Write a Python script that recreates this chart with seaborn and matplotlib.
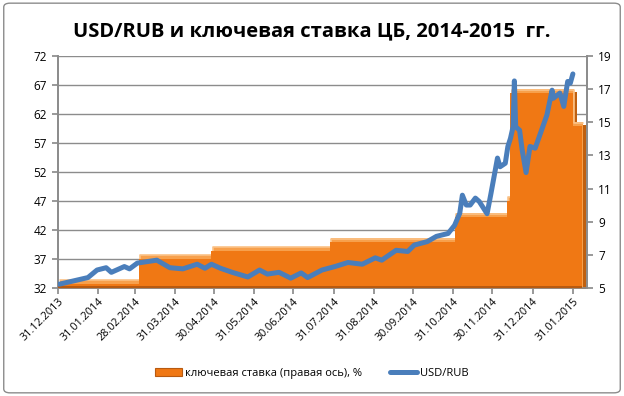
import pandas as pd

import matplotlib
matplotlib.use('AGG')
import matplotlib.pyplot as plt
import matplotlib.transforms as mtransforms
from matplotlib.patches import FancyBboxPatch, Patch
from matplotlib.lines import Line2D
import seaborn as sns

sns.set_theme(style="white", rc={
        "text.color": "black",
        "xtick.color": "black",
        "ytick.color": "black"})
plt.rcParams['font.family'] = ['Open Sans', 'DejaVu Sans']

# USD/RUB (left axis)
usd_dates = ['2014-01-01', '2014-01-23', '2014-01-30', '2014-02-06', '2014-02-10',
             '2014-02-20', '2014-02-24', '2014-03-02', '2014-03-17', '2014-03-27',
             '2014-04-06', '2014-04-17', '2014-04-23', '2014-04-28', '2014-05-05',
             '2014-05-14', '2014-05-26', '2014-06-04', '2014-06-10', '2014-06-19',
             '2014-06-28', '2014-07-06', '2014-07-11', '2014-07-22', '2014-08-01',
             '2014-08-11', '2014-08-22', '2014-09-01', '2014-09-06', '2014-09-17',
             '2014-09-26', '2014-10-01', '2014-10-11', '2014-10-18', '2014-10-27',
             '2014-11-01', '2014-11-05', '2014-11-07', '2014-11-10', '2014-11-13',
             '2014-11-17', '2014-11-20', '2014-11-26', '2014-11-29', '2014-12-04',
             '2014-12-06', '2014-12-10', '2014-12-12', '2014-12-14', '2014-12-16',
             '2014-12-17', '2014-12-18', '2014-12-21', '2014-12-23', '2014-12-26',
             '2014-12-29', '2015-01-02', '2015-01-11', '2015-01-15', '2015-01-16',
             '2015-01-21', '2015-01-24', '2015-01-27', '2015-01-29', '2015-01-31']
usd_values = [32.66, 33.8, 35.1, 35.5, 34.7,
              35.7, 35.3, 36.3, 36.8, 35.5,
              35.3, 36.1, 35.4, 36.1, 35.4,
              34.7, 33.9, 35.1, 34.4, 34.7,
              33.7, 34.6, 33.8, 35.1, 35.7,
              36.4, 36.1, 37.2, 36.8, 38.5,
              38.3, 39.4, 40.0, 40.9, 41.4,
              42.8, 44.9, 48.0, 46.3, 46.3,
              47.5, 46.9, 44.8, 48.3, 54.4,
              52.9, 53.5, 56.4, 57.8, 59.8,
              67.7, 59.8, 59.2, 55.8, 51.9,
              56.4, 56.1, 61.8, 66.1, 64.7,
              65.6, 63.3, 67.6, 67.3, 68.9]

# key rate, % (right axis)
rate_dates = ['2013-12-31', '2014-03-03', '2014-04-28', '2014-07-28', '2014-11-01',
              '2014-12-11', '2014-12-14', '2015-01-31', '2015-02-07']
rate_values = [5.5, 7.0, 7.5, 8.0, 9.5, 10.5, 17.0, 15.0, 15.0]

tick_dates = ['2013-12-31', '2014-01-31', '2014-02-28', '2014-03-31', '2014-04-30',
              '2014-05-31', '2014-06-30', '2014-07-31', '2014-08-31', '2014-09-30',
              '2014-10-31', '2014-11-30', '2014-12-31', '2015-01-31']
left_ticks = [32, 37, 42, 47, 52, 57, 62, 67, 72]
right_ticks = [5, 7, 9, 11, 13, 15, 17, 19]

usd = pd.DataFrame({'date': pd.to_datetime(usd_dates), 'usd': usd_values})
rate = pd.DataFrame({'date': pd.to_datetime(rate_dates), 'rate': rate_values})
ticks = pd.to_datetime(tick_dates)

grid_c = '#8c8c8c'

fig = plt.figure(figsize=(6.24, 3.96), dpi=100)
ax = fig.add_axes([0.093, 0.2727, 0.848, 0.586])   # left scale + grid (back)
ax2 = ax.twinx()                                   # key rate area
ax3 = ax.twinx()                                   # USD/RUB line on top
ax.set_zorder(0)
ax2.set_zorder(1)
ax3.set_zorder(2)
ax2.patch.set_visible(False)
ax3.patch.set_visible(False)

ax.set_ylim(32, 72)
ax.set_yticks(left_ticks)
ax.grid(axis='y', color=grid_c, lw=1)
ax.grid(axis='x', visible=False)

# pseudo 3D key rate area
def px_shift(dx, dy):
    return ax2.transData + mtransforms.ScaledTranslation(dx / fig.dpi, dy / fig.dpi, fig.dpi_scale_trans)

ax2.set_ylim(5, 19)
ax2.set_yticks(right_ticks)
ax2.fill_between(rate['date'], 5, rate['rate'], step='post', color='#c0600f',
                 transform=px_shift(4, -3), zorder=1, lw=0)
ax2.fill_between(rate['date'], 5, rate['rate'], step='post', color='#f7a04c',
                 transform=px_shift(1.5, 0), zorder=1.5, lw=0)
ax2.step(rate['date'], rate['rate'], where='post', color='#fbc287', lw=1.2,
         transform=px_shift(1.5, -0.6), zorder=1.6)
ax2.fill_between(rate['date'], 5, rate['rate'], step='post', color='#f07814',
                 transform=px_shift(0, -4), zorder=2, lw=0)
ax2.fill_between(rate['date'], 5, 5.12, step='post', color='#b85a10', zorder=2.6, lw=0)

# USD/RUB line
sns.lineplot(data=usd, x='date', y='usd', ax=ax3, color='#4a7ebb', lw=3.6, zorder=5)
ax3.set_ylim(32, 72)
ax3.set_axis_off()

ax.set_xlim(pd.Timestamp('2013-12-31'), pd.Timestamp('2015-02-11'))
ax.set_xticks(ticks)
ax.set_xticklabels([d.strftime('%d.%m.%Y') for d in ticks], rotation=45,
                   ha='right', rotation_mode='anchor', fontsize=7.8)
for a in (ax, ax2, ax3):
    a.set_xlabel('')
    a.set_ylabel('')

for a in (ax, ax2):
    for s in a.spines.values():
        s.set_color(grid_c)
    a.spines['top'].set_visible(False)
ax.tick_params(axis='y', labelsize=8.5, length=4, color=grid_c, direction='out', left=True, pad=4)
ax.tick_params(axis='x', length=4, color=grid_c, direction='out', bottom=True, pad=2)
ax2.tick_params(axis='y', labelsize=8.5, length=4, color=grid_c, direction='out', right=True, pad=4)

fig.text(0.5, 0.922, 'USD/RUB и ключевая ставка ЦБ, 2014-2015  гг.', ha='center',
         va='center', fontsize=14.5, fontweight='bold', color='black')

handles = [Patch(facecolor='#f07814', edgecolor='#b85a10', lw=0.8),
           Line2D([0], [0], color='#4a7ebb', lw=3.6)]
fig.legend(handles, ['ключевая ставка (правая ось), %', 'USD/RUB'], loc='center',
           bbox_to_anchor=(0.5, 0.058), ncol=2, frameon=False, fontsize=8,
           handlelength=2.4, handletextpad=0.3, columnspacing=2.5)

fig.patches.append(FancyBboxPatch((0.006, 0.008), 0.988, 0.984, boxstyle='round,pad=0,rounding_size=0.01',
                                  transform=fig.transFigure, fill=False, edgecolor='#8c8c8c', lw=1))

fig.savefig('out.png', dpi=100)
